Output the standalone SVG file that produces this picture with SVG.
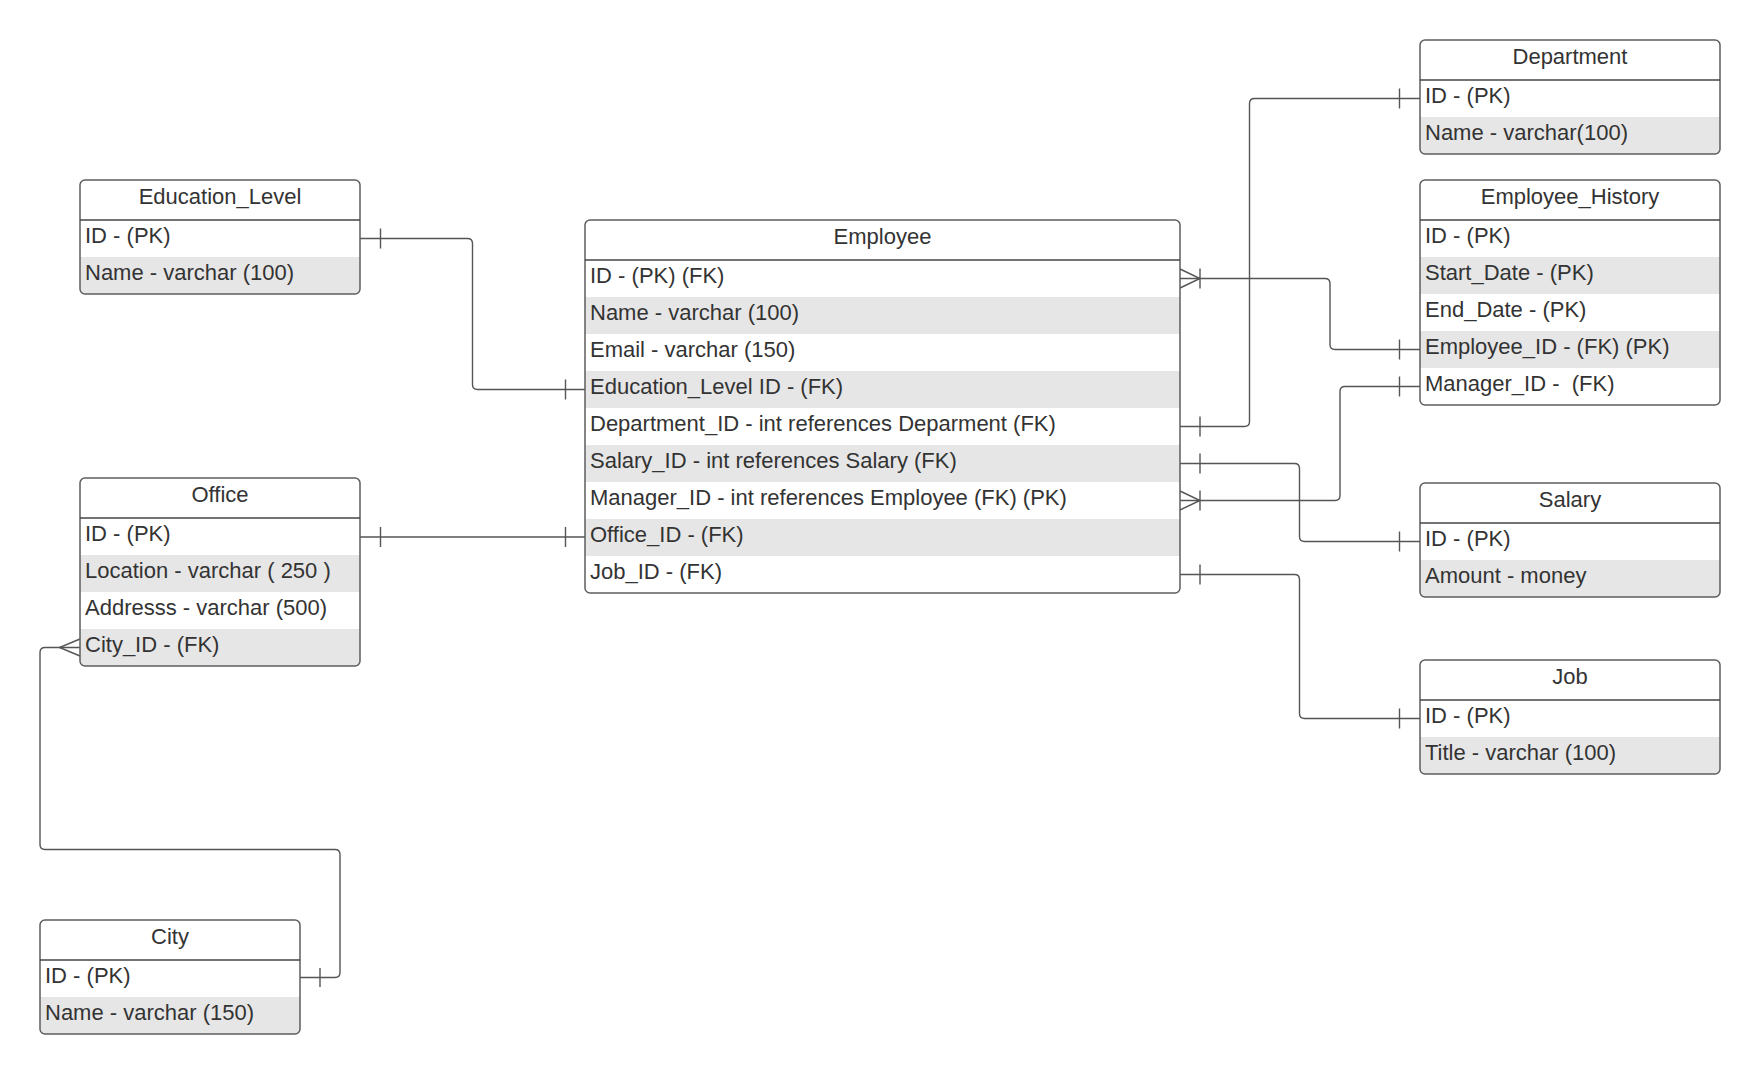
<svg xmlns="http://www.w3.org/2000/svg" width="1760" height="1074" viewBox="0 0 1760 1074">
<style>
.bg{fill:#ffffff}
.box{fill:none;stroke:#5e5e5e;stroke-width:1.5}
.hd{stroke:#444444;stroke-width:1.5}
.g{fill:#e6e6e6}
.t{font-family:"Liberation Sans",Arial,sans-serif;font-size:22px;fill:#333333;white-space:pre}
.ti{font-family:"Liberation Sans",Arial,sans-serif;font-size:22px;fill:#333333;text-anchor:middle}
.c{fill:none;stroke:#555555;stroke-width:1.4}
</style>
<rect width="1760" height="1074" fill="#ffffff"/>

<g id="connectors">
  <!-- Education_Level -> Employee -->
  <path class="c" d="M360,238.5 H467.5 Q472.5,238.5 472.5,243.5 V384.5 Q472.5,389.5 477.5,389.5 H585"/>
  <path class="c" d="M380.5,228.5 V248.5 M565.5,379.5 V399.5"/>
  <!-- Office -> Employee -->
  <path class="c" d="M360,537 H585"/>
  <path class="c" d="M380.5,527 V547 M565.5,527 V547"/>
  <!-- Office City_ID -> City -->
  <path class="c" d="M80,647.5 H45 Q40,647.5 40,652.5 V844.5 Q40,849.5 45,849.5 H335 Q340,849.5 340,854.5 V972.5 Q340,977.5 335,977.5 H300"/>
  <path class="c" d="M80,639 L59.5,647.5 L80,656"/>
  <path class="c" d="M320,968 V987"/>
  <!-- Employee Department_ID -> Department -->
  <path class="c" d="M1180,426.5 H1244.5 Q1249.5,426.5 1249.5,421.5 V103.5 Q1249.5,98.5 1254.5,98.5 H1420"/>
  <path class="c" d="M1200,416.5 V436.5 M1399.5,88.5 V108.5"/>
  <!-- Employee ID -> Employee_History Employee_ID -->
  <path class="c" d="M1180,278.5 H1325 Q1330,278.5 1330,283.5 V344.5 Q1330,349.5 1335,349.5 H1420"/>
  <path class="c" d="M1180,269 L1200,278.5 L1180,288 M1200,268.5 V288.5 M1399.5,339.5 V359.5"/>
  <!-- Employee Manager_ID -> Employee_History Manager_ID -->
  <path class="c" d="M1180,500.5 H1335 Q1340,500.5 1340,495.5 V391.5 Q1340,386.5 1345,386.5 H1420"/>
  <path class="c" d="M1180,491 L1200,500.5 L1180,510 M1200,490.5 V510.5 M1399.5,376.5 V396.5"/>
  <!-- Employee Salary_ID -> Salary -->
  <path class="c" d="M1180,463.5 H1294.5 Q1299.5,463.5 1299.5,468.5 V536.5 Q1299.5,541.5 1304.5,541.5 H1420"/>
  <path class="c" d="M1200,453.5 V473.5 M1399.5,531.5 V551.5"/>
  <!-- Employee Job_ID -> Job -->
  <path class="c" d="M1180,574.5 H1294.5 Q1299.5,574.5 1299.5,579.5 V713.5 Q1299.5,718.5 1304.5,718.5 H1420"/>
  <path class="c" d="M1200,564.5 V584.5 M1399.5,708.5 V728.5"/>
</g>

<g id="department">
  <rect x="1420" y="40" width="300" height="114" rx="5" class="bg"/>
  <path class="g" d="M1420,117 H1720 V149 A5,5 0 0 1 1715,154 H1425 A5,5 0 0 1 1420,149 Z"/>
  <rect x="1420" y="40" width="300" height="114" rx="5" class="box"/>
  <line x1="1420" y1="80" x2="1720" y2="80" class="hd"/>
  <text class="ti" x="1570" y="63.5">Department</text>
  <text class="t" x="1425" y="102.5">ID - (PK)</text>
  <text class="t" x="1425" y="139.5">Name - varchar(100)</text>
</g>

<g id="employee_history">
  <rect x="1420" y="180" width="300" height="225" rx="5" class="bg"/>
  <rect x="1420" y="257" width="300" height="37" class="g"/>
  <rect x="1420" y="331" width="300" height="37" class="g"/>
  <rect x="1420" y="180" width="300" height="225" rx="5" class="box"/>
  <line x1="1420" y1="220" x2="1720" y2="220" class="hd"/>
  <text class="ti" x="1570" y="203.5">Employee_History</text>
  <text class="t" x="1425" y="242.5">ID - (PK)</text>
  <text class="t" x="1425" y="279.5">Start_Date - (PK)</text>
  <text class="t" x="1425" y="316.5">End_Date - (PK)</text>
  <text class="t" x="1425" y="353.5">Employee_ID - (FK) (PK)</text>
  <text class="t" x="1425" y="390.5" xml:space="preserve">Manager_ID -  (FK)</text>
</g>

<g id="education_level">
  <rect x="80" y="180" width="280" height="114" rx="5" class="bg"/>
  <path class="g" d="M80,257 H360 V289 A5,5 0 0 1 355,294 H85 A5,5 0 0 1 80,289 Z"/>
  <rect x="80" y="180" width="280" height="114" rx="5" class="box"/>
  <line x1="80" y1="220" x2="360" y2="220" class="hd"/>
  <text class="ti" x="220" y="203.5">Education_Level</text>
  <text class="t" x="85" y="242.5">ID - (PK)</text>
  <text class="t" x="85" y="279.5">Name - varchar (100)</text>
</g>

<g id="employee">
  <rect x="585" y="220" width="595" height="373" rx="5" class="bg"/>
  <rect x="585" y="297" width="595" height="37" class="g"/>
  <rect x="585" y="371" width="595" height="37" class="g"/>
  <rect x="585" y="445" width="595" height="37" class="g"/>
  <rect x="585" y="519" width="595" height="37" class="g"/>
  <rect x="585" y="220" width="595" height="373" rx="5" class="box"/>
  <line x1="585" y1="260" x2="1180" y2="260" class="hd"/>
  <text class="ti" x="882.5" y="243.5">Employee</text>
  <text class="t" x="590" y="282.5">ID - (PK) (FK)</text>
  <text class="t" x="590" y="319.5">Name - varchar (100)</text>
  <text class="t" x="590" y="356.5">Email - varchar (150)</text>
  <text class="t" x="590" y="393.5">Education_Level ID - (FK)</text>
  <text class="t" x="590" y="430.5">Department_ID - int references Deparment (FK)</text>
  <text class="t" x="590" y="467.5">Salary_ID - int references Salary (FK)</text>
  <text class="t" x="590" y="504.5">Manager_ID - int references Employee (FK) (PK)</text>
  <text class="t" x="590" y="541.5">Office_ID - (FK)</text>
  <text class="t" x="590" y="578.5">Job_ID - (FK)</text>
</g>

<g id="office">
  <rect x="80" y="478" width="280" height="188" rx="5" class="bg"/>
  <rect x="80" y="555" width="280" height="37" class="g"/>
  <path class="g" d="M80,629 H360 V661 A5,5 0 0 1 355,666 H85 A5,5 0 0 1 80,661 Z"/>
  <rect x="80" y="478" width="280" height="188" rx="5" class="box"/>
  <line x1="80" y1="518" x2="360" y2="518" class="hd"/>
  <text class="ti" x="220" y="501.5">Office</text>
  <text class="t" x="85" y="540.5">ID - (PK)</text>
  <text class="t" x="85" y="577.5">Location - varchar ( 250 )</text>
  <text class="t" x="85" y="614.5">Addresss - varchar (500)</text>
  <text class="t" x="85" y="651.5">City_ID - (FK)</text>
</g>

<g id="salary">
  <rect x="1420" y="483" width="300" height="114" rx="5" class="bg"/>
  <path class="g" d="M1420,560 H1720 V592 A5,5 0 0 1 1715,597 H1425 A5,5 0 0 1 1420,592 Z"/>
  <rect x="1420" y="483" width="300" height="114" rx="5" class="box"/>
  <line x1="1420" y1="523" x2="1720" y2="523" class="hd"/>
  <text class="ti" x="1570" y="506.5">Salary</text>
  <text class="t" x="1425" y="545.5">ID - (PK)</text>
  <text class="t" x="1425" y="582.5">Amount - money</text>
</g>

<g id="job">
  <rect x="1420" y="660" width="300" height="114" rx="5" class="bg"/>
  <path class="g" d="M1420,737 H1720 V769 A5,5 0 0 1 1715,774 H1425 A5,5 0 0 1 1420,769 Z"/>
  <rect x="1420" y="660" width="300" height="114" rx="5" class="box"/>
  <line x1="1420" y1="700" x2="1720" y2="700" class="hd"/>
  <text class="ti" x="1570" y="683.5">Job</text>
  <text class="t" x="1425" y="722.5">ID - (PK)</text>
  <text class="t" x="1425" y="759.5">Title - varchar (100)</text>
</g>

<g id="city">
  <rect x="40" y="920" width="260" height="114" rx="5" class="bg"/>
  <path class="g" d="M40,997 H300 V1029 A5,5 0 0 1 295,1034 H45 A5,5 0 0 1 40,1029 Z"/>
  <rect x="40" y="920" width="260" height="114" rx="5" class="box"/>
  <line x1="40" y1="960" x2="300" y2="960" class="hd"/>
  <text class="ti" x="170" y="943.5">City</text>
  <text class="t" x="45" y="982.5">ID - (PK)</text>
  <text class="t" x="45" y="1019.5">Name - varchar (150)</text>
</g>
</svg>
